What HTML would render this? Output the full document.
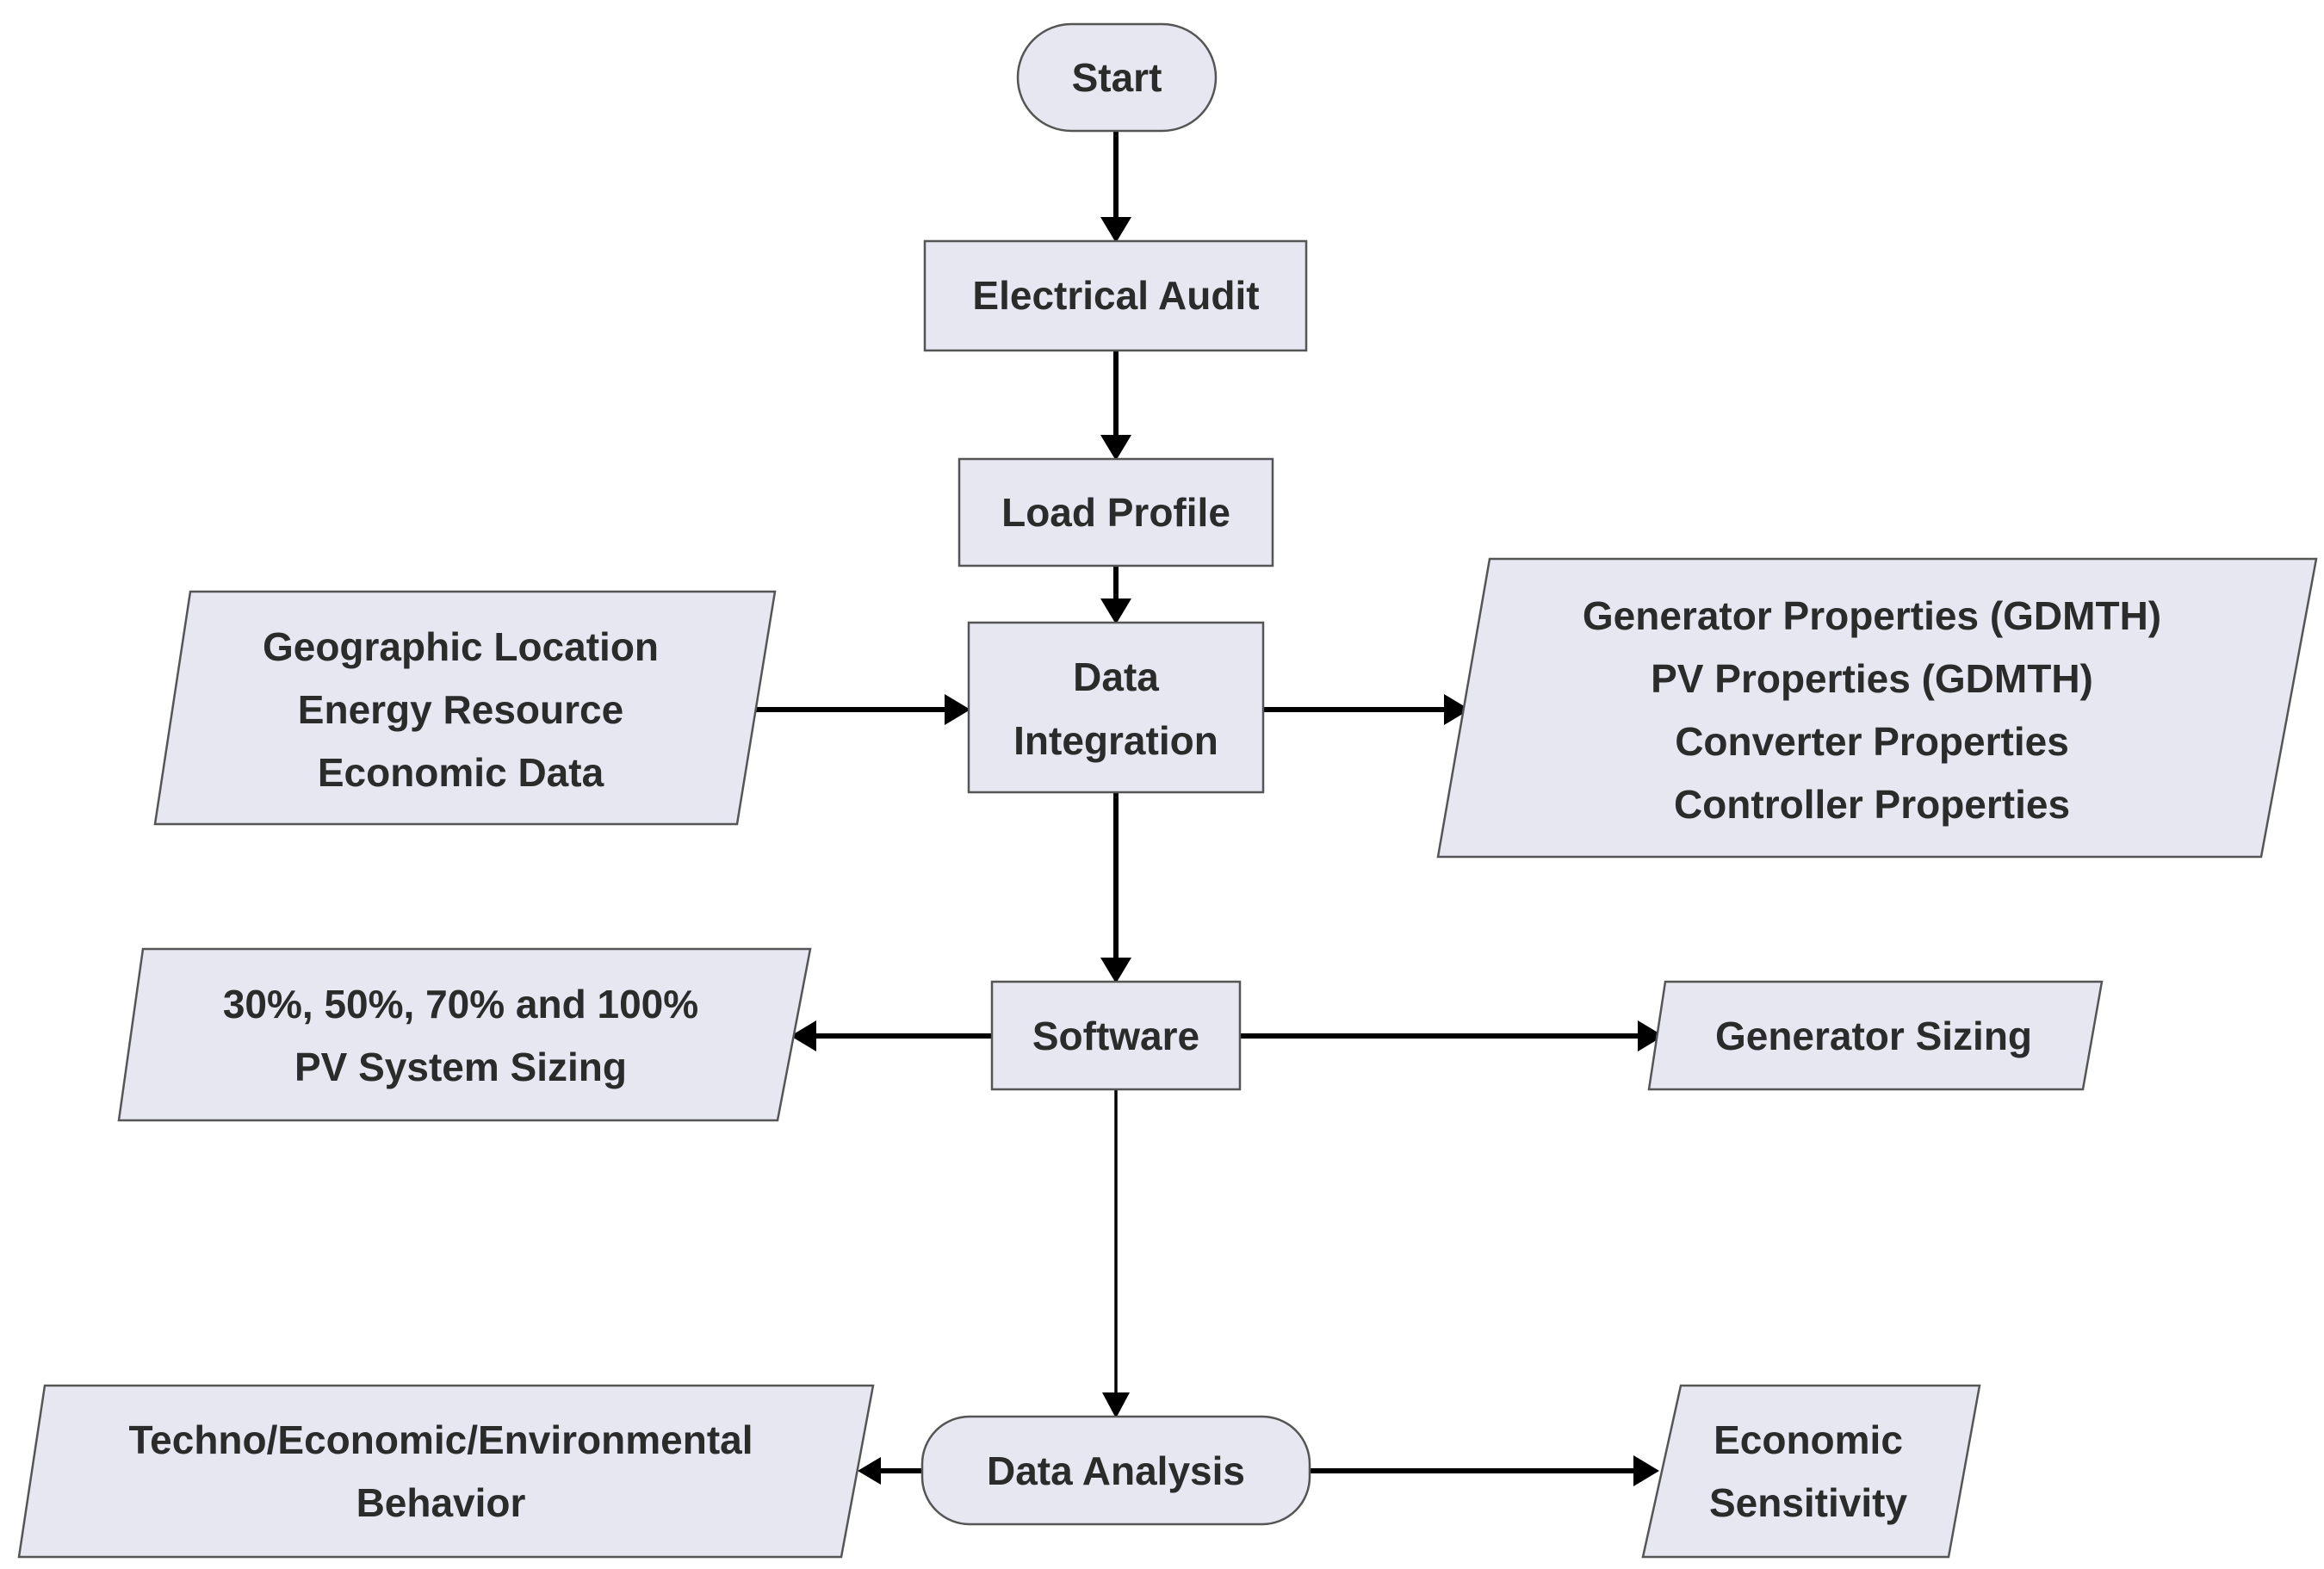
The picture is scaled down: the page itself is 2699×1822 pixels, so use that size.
<!DOCTYPE html>
<html><head><meta charset="utf-8"><style>
html,body{margin:0;padding:0;background:#fff;}
svg{display:block;}
text{font-family:"Liberation Sans",Arial,sans-serif;font-weight:bold;font-size:46px;fill:#2b2b2b;text-anchor:middle;}
.s{fill:#e6e7f1;stroke:#555;stroke-width:2.5;}
.l{stroke:#000;stroke-width:6;fill:none;}
.a{fill:#000;}
</style></head><body>
<svg width="2699" height="1822" viewBox="0 0 2699 1822" xmlns="http://www.w3.org/2000/svg">
<!-- connectors -->
<line class="l" x1="1296" y1="152" x2="1296" y2="255"/><polygon class="a" points="1278,252 1314,252 1296,282"/>
<line class="l" x1="1296" y1="407" x2="1296" y2="508"/><polygon class="a" points="1278,505 1314,505 1296,535"/>
<line class="l" x1="1296" y1="657" x2="1296" y2="698"/><polygon class="a" points="1278,695 1314,695 1296,725"/>
<line class="l" x1="870" y1="824" x2="1100" y2="824"/><polygon class="a" points="1097,806 1097,842 1127,824"/>
<line class="l" x1="1467" y1="824" x2="1680" y2="824"/><polygon class="a" points="1677,806 1677,842 1707,824"/>
<line class="l" x1="1296" y1="920" x2="1296" y2="1115"/><polygon class="a" points="1278,1112 1314,1112 1296,1142"/>
<line class="l" x1="1152" y1="1203" x2="945" y2="1203"/><polygon class="a" points="948,1185 948,1221 918,1203"/>
<line class="l" x1="1440" y1="1203" x2="1905" y2="1203"/><polygon class="a" points="1902,1185 1902,1221 1932,1203"/>
<line class="l" style="stroke-width:3.5" x1="1296" y1="1265" x2="1296" y2="1620"/><polygon class="a" points="1280,1617 1312,1617 1296,1647"/>
<line class="l" x1="1071" y1="1708" x2="1020" y2="1708"/><polygon class="a" points="1023,1692 1023,1724 996,1708"/>
<line class="l" x1="1521" y1="1708" x2="1900" y2="1708"/><polygon class="a" points="1897,1690 1897,1726 1927,1708"/>
<!-- shapes -->
<rect class="s" x="1182" y="28" width="230" height="124" rx="62"/>
<text x="1297" y="106">Start</text>
<rect class="s" x="1074" y="280" width="443" height="127"/>
<text x="1296" y="359">Electrical Audit</text>
<rect class="s" x="1114" y="533" width="364" height="124"/>
<text x="1296" y="611">Load Profile</text>
<rect class="s" x="1125" y="723" width="342" height="197"/>
<text x="1296" y="802">Data</text><text x="1296" y="876">Integration</text>
<polygon class="s" points="221,687 900,687 856,957 180,957"/>
<text x="535" y="767">Geographic Location</text>
<text x="535" y="840">Energy Resource</text>
<text x="535" y="913">Economic Data</text>
<polygon class="s" points="1730,649 2690,649 2626,995 1670,995"/>
<text x="2174" y="731">Generator Properties (GDMTH)</text>
<text x="2174" y="804">PV Properties (GDMTH)</text>
<text x="2174" y="877">Converter Properties</text>
<text x="2174" y="950">Controller Properties</text>
<rect class="s" x="1152" y="1140" width="288" height="125"/>
<text x="1296" y="1219">Software</text>
<polygon class="s" points="166,1102 941,1102 903,1301 138,1301"/>
<text x="535" y="1182">30%, 50%, 70% and 100%</text>
<text x="535" y="1255">PV System Sizing</text>
<polygon class="s" points="1934,1140 2441,1140 2419,1265 1915,1265"/>
<text x="2176" y="1219">Generator Sizing</text>
<rect class="s" x="1071" y="1645" width="450" height="125" rx="55"/>
<text x="1296" y="1724">Data Analysis</text>
<polygon class="s" points="52,1609 1014,1609 977,1808 22,1808"/>
<text x="512" y="1688">Techno/Economic/Environmental</text>
<text x="512" y="1761">Behavior</text>
<polygon class="s" points="1952,1609 2299,1609 2263,1808 1908,1808"/>
<text x="2100" y="1688">Economic</text>
<text x="2100" y="1761">Sensitivity</text>
</svg>
</body></html>
